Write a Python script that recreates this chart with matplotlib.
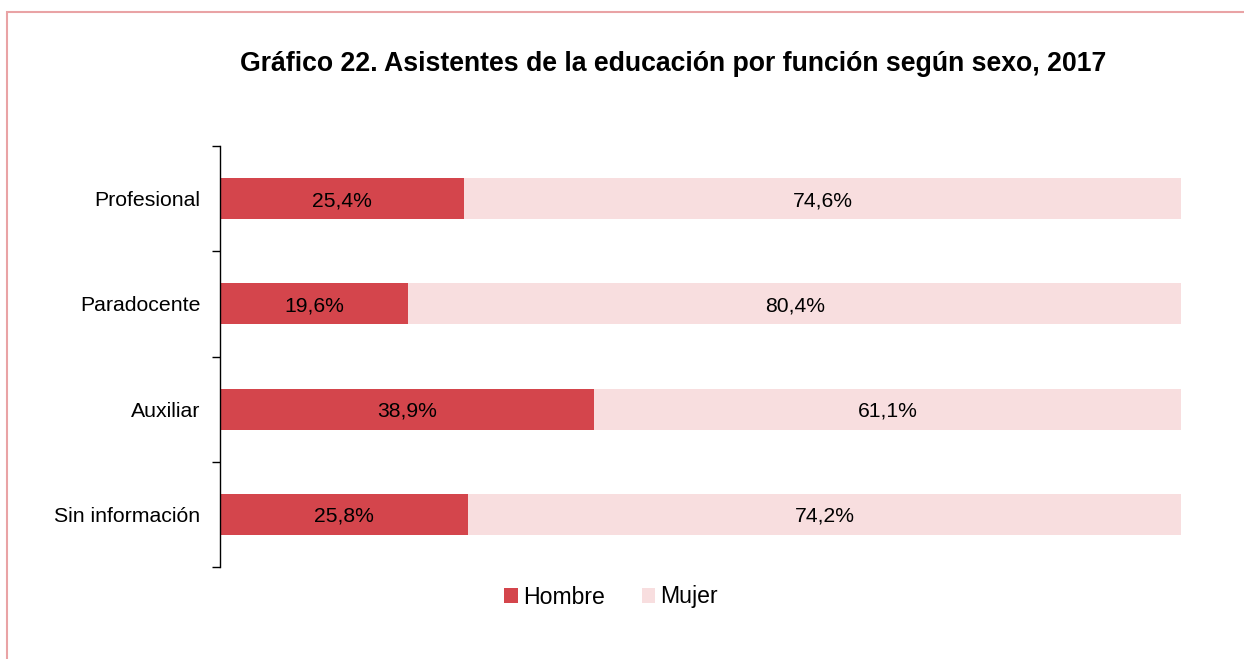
import matplotlib.pyplot as plt
from matplotlib.patches import Rectangle

plt.rcParams['font.family'] = ['Liberation Sans', 'DejaVu Sans']

categories = ['Profesional', 'Paradocente', 'Auxiliar', 'Sin información']
hombre = [25.4, 19.6, 38.9, 25.8]
mujer = [74.6, 80.4, 61.1, 74.2]

col_h = '#D4454C'
col_m = '#F8DEDF'

W, H = 1244, 659
fig = plt.figure(figsize=(W / 100, H / 100), dpi=100)

# pink frame (only top/left visible, the rest is cut off)
fig.patches.append(Rectangle((7 / W, -0.1), 1.2, 1 - 12 / H + 0.1, transform=fig.transFigure,
                             fill=False, edgecolor='#E9A3A5', linewidth=1.5))

ax = fig.add_axes([220 / W, 1 - 567 / H, (1181 - 220) / W, (567 - 146) / H])

y = list(range(len(categories)))[::-1]
ax.barh(y, hombre, height=0.39, color=col_h, label='Hombre')
ax.barh(y, mujer, left=hombre, height=0.39, color=col_m, label='Mujer')

def fmt(v):
    return f'{v:.1f}%'.replace('.', ',')

for yi, h, m in zip(y, hombre, mujer):
    ax.text(h / 2, yi, fmt(h), ha='center', va='center_baseline', fontsize=15.2)
    ax.text(h + m / 2, yi, fmt(m), ha='center', va='center_baseline', fontsize=15.2)

ax.set_xlim(0, 100)
ax.set_ylim(-0.5, len(categories) - 0.5)
ax.set_yticks(y)
ax.set_yticklabels(categories, fontsize=15.3)
ax.set_yticks([i - 0.5 for i in range(len(categories) + 1)], minor=True)
ax.tick_params(axis='y', which='major', length=0, pad=14)
ax.tick_params(axis='y', which='minor', length=6, width=1)
ax.set_xticks([])
for s in ['top', 'right', 'bottom']:
    ax.spines[s].set_visible(False)
ax.spines['left'].set_linewidth(1)

fig.text(673 / W, 1 - 64 / H, 'Gráfico 22. Asistentes de la educación por función según sexo, 2017',
         ha='center', va='center', fontsize=19.2, fontweight='bold')

fig.legend(loc='center', bbox_to_anchor=(611 / W, 1 - 597 / H), ncol=2, frameon=False,
           fontsize=16.6, handlelength=0.6, handleheight=0.6, handletextpad=0.2, columnspacing=1.6)

fig.savefig('out.png', dpi=100)
